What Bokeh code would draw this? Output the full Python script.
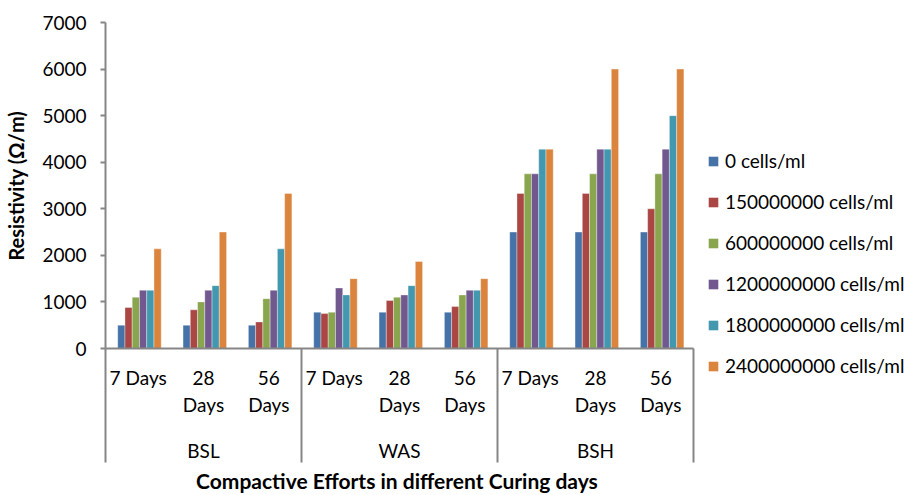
from bokeh.plotting import figure
from bokeh.layouts import row
from bokeh.models import Range1d, LinearAxis, FixedTicker, Legend, LegendItem, ColumnDataSource
from bokeh.embed import file_html
from bokeh.resources import INLINE

groups = ["BSL", "WAS", "BSH"]
days = ["7 Days", "28 Days", "56 Days"]
series_names = ["0 cells/ml", "150000000 cells/ml", "600000000 cells/ml",
                "1200000000 cells/ml", "1800000000 cells/ml", "2400000000 cells/ml"]
colors = ["#4572A7", "#AA4643", "#89A54E", "#71588F", "#4198AF", "#DB843D"]

# values per category, order: BSL 7/28/56, WAS 7/28/56, BSH 7/28/56
s_0 = [500, 500, 500, 780, 780, 780, 2500, 2500, 2500]
s_150m = [880, 830, 570, 750, 1030, 900, 3330, 3330, 3000]
s_600m = [1100, 1000, 1070, 780, 1100, 1150, 3750, 3750, 3750]
s_1200m = [1250, 1250, 1250, 1300, 1150, 1250, 3750, 4280, 4280]
s_1800m = [1250, 1350, 2140, 1150, 1350, 1250, 4280, 4280, 5000]
s_2400m = [2140, 2500, 3330, 1500, 1870, 1500, 4280, 6000, 6000]
series = [s_0, s_150m, s_600m, s_1200m, s_1800m, s_2400m]

y_ticks = [0, 1000, 2000, 3000, 4000, 5000, 6000, 7000]

FONT = "Lato"
GRAY = "#868686"

n_cat = len(groups) * len(days)
centers = [i + 0.5 for i in range(n_cat)]
bar_w = 0.111

p = figure(width=707, height=495, output_backend="svg", toolbar_location=None,
           x_range=Range1d(0, n_cat), y_range=Range1d(0, 7000),
           min_border_left=105, min_border_right=14, min_border_top=22, min_border_bottom=144)
p.outline_line_color = None
p.xgrid.visible = False
p.ygrid.visible = False
p.background_fill_color = "white"
p.border_fill_color = "white"

sources = []
for k, (vals, col) in enumerate(zip(series, colors)):
    xs = [c + (k - 2.5) * bar_w + 0.02 for c in centers]
    src = ColumnDataSource(dict(x=xs, top=vals))
    sources.append(src)
    p.vbar(x="x", top="top", width=bar_w, bottom=0, source=src,
           fill_color=col, line_color="white", line_alpha=0.45, line_width=0.8)

# Y axis
ya = p.yaxis[0]
ya.ticker = FixedTicker(ticks=y_ticks)
ya.axis_line_color = GRAY
ya.axis_line_width = 2
ya.major_tick_line_color = GRAY
ya.major_tick_line_width = 2
ya.major_tick_in = 0
ya.major_tick_out = 5
ya.minor_tick_line_color = None
ya.major_label_text_font = FONT
ya.major_label_text_font_size = "19px"
ya.major_label_text_color = "black"
ya.major_label_standoff = 14
ya.axis_label = "Resistivity (Ω/m)"
ya.axis_label_text_font = FONT
ya.axis_label_text_font_size = "20px"
ya.axis_label_text_font_style = "bold"
ya.axis_label_text_color = "black"
ya.axis_label_standoff = 11

# X axis: day labels + group separators (long minor ticks)
day_labels = [d.replace(" Days", "\nDays") if d != "7 Days" else d for d in days]
xa = p.xaxis[0]
xa.ticker = FixedTicker(ticks=centers, minor_ticks=[0, 3, 6, 9])
xa.major_label_overrides = {c: day_labels[i % 3] for i, c in enumerate(centers)}
xa.axis_line_color = GRAY
xa.axis_line_width = 2
xa.major_tick_line_color = None
xa.major_tick_in = 0
xa.major_tick_out = 0
xa.minor_tick_line_color = GRAY
xa.minor_tick_line_width = 2
xa.minor_tick_in = 0
xa.minor_tick_out = 114
xa.major_label_text_font = FONT
xa.major_label_text_font_size = "19px"
xa.major_label_text_color = "black"
xa.major_label_standoff = -97

# Group axis
ga = LinearAxis(ticker=FixedTicker(ticks=[1.5, 4.5, 7.5]))
ga.major_label_overrides = {1.5: groups[0], 4.5: groups[1], 7.5: groups[2]}
ga.axis_line_color = None
ga.major_tick_line_color = None
ga.minor_tick_line_color = None
ga.major_tick_out = 0
ga.major_tick_in = 0
ga.major_label_text_font = FONT
ga.major_label_text_font_size = "19px"
ga.major_label_text_color = "black"
ga.major_label_standoff = 19
ga.axis_label = "Compactive Efforts  in different Curing days"
ga.axis_label_text_font = FONT
ga.axis_label_text_font_size = "21px"
ga.axis_label_text_font_style = "bold"
ga.axis_label_text_color = "black"
ga.axis_label_standoff = 3
p.add_layout(ga, "below")

# Legend panel: separate figure (not frame-aligned) so the legend is not clipped.
# It shares the bar sources; its ranges keep the bars themselves out of view.
lg = figure(width=211, height=495, output_backend="svg", toolbar_location=None,
            title=None, x_axis_type=None, y_axis_type=None,
            x_range=Range1d(-100, -99), y_range=Range1d(-2, -1),
            min_border_left=0, min_border_right=0, min_border_top=0, min_border_bottom=0)
lg.frame_align = False
lg.outline_line_color = None
lg.xgrid.visible = False
lg.ygrid.visible = False
items = []
for name, col, src in zip(series_names, colors, sources):
    r = lg.vbar(x="x", top="top", width=bar_w, bottom=0, source=src,
                fill_color=col, line_color=None)
    items.append(LegendItem(label=name, renderers=[r]))

legend = Legend(items=items, location=(0, 118), orientation="vertical",
                label_text_font=FONT, label_text_font_size="19px", label_text_color="black",
                glyph_width=12, glyph_height=12, label_standoff=6, label_height=20,
                spacing=18, padding=0, margin=0,
                border_line_color=None, background_fill_alpha=0)
lg.add_layout(legend, "center")

layout = row(p, lg, spacing=0)
open("out.html", "w").write(file_html(layout, INLINE))
